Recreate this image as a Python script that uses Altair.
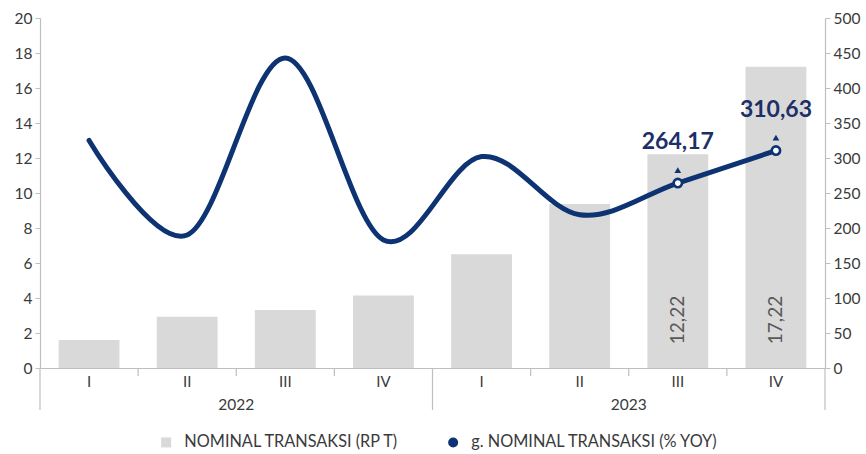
import altair as alt
import pandas as pd

# ---- data ----
quarters = ["I", "II", "III", "IV", "I", "II", "III", "IV"]
years = ["2022", "2022", "2022", "2022", "2023", "2023", "2023", "2023"]
nominal = [1.6, 2.93, 3.31, 4.15, 6.5, 9.37, 12.22, 17.22]          # Rp T (left axis)
growth = [325, 190, 443, 183, 302, 219, 264.17, 310.63]             # % yoy (right axis)
labelled = ["2023 III", "2023 IV"]
series_names = ["NOMINAL TRANSAKSI (RP T)", "g. NOMINAL TRANSAKSI (% YOY)"]
series_shapes = ["square", "circle"]
left_ticks = [0, 2, 4, 6, 8, 10, 12, 14, 16, 18, 20]
right_ticks = [0, 50, 100, 150, 200, 250, 300, 350, 400, 450, 500]
year_list = ["2022", "2023"]

keys = [f"{y} {q}" for y, q in zip(years, quarters)]

def fmt(v):
    return f"{v:.2f}".replace(".", ",")

df = pd.DataFrame({
    "key": keys,
    "quarter": quarters,
    "year": years,
    "nominal": nominal,
    "growth": growth,
    "nom_lab": [fmt(v) for v in nominal],
    "gr_lab": [fmt(v) for v in growth],
    "first": [q == "I" for q in quarters],
})
years_df = pd.DataFrame({
    "year": year_list,
    "mid": [f"{y} III" for y in year_list],
    "start": [f"{y} I" for y in year_list],
})
legend_df = pd.DataFrame({"series": series_names})

GRAY_BAR = "#d9d9d9"
NAVY = "#0d3372"
LABEL_NAVY = "#1c2f66"
AXIS = "#bfbfbf"
TXT = "#3a3a3a"
FONT = "Lato"

W, H = 785, 350
STEP = W / 8.0
PAD_IN, PAD_OUT = 0.38, 0.19
BOUND = -PAD_OUT * STEP  # shift from band start to category boundary

xscale = alt.Scale(domain=keys, paddingInner=PAD_IN, paddingOuter=PAD_OUT)
rscale = alt.Scale(domain=[0, 500], nice=False)

base = alt.Chart(df)

bars = base.mark_bar(color=GRAY_BAR).encode(
    x=alt.X("key:N", scale=xscale, title=None,
            axis=alt.Axis(labelExpr="split(datum.label, ' ')[1]", labelAngle=0,
                          ticks=False, labelPadding=6, labelFont=FONT, labelFontSize=15,
                          labelColor=TXT, domainColor=AXIS, domainWidth=1.2)),
    y=alt.Y("nominal:Q", scale=alt.Scale(domain=[0, 20], nice=False), title=None,
            axis=alt.Axis(values=left_ticks, orient="left", grid=False, domainColor=AXIS,
                          domainWidth=1.2, tickColor=AXIS, tickSize=5, labelPadding=3,
                          labelFont=FONT, labelFontSize=15.5, labelColor=TXT)),
)

leg = alt.Legend(orient="none", legendX=118, legendY=416,
                 direction="horizontal", title=None,
                 labelFont=FONT, labelFontSize=16.3, labelColor=TXT, labelLimit=500,
                 symbolSize=100, symbolOpacity=1,
                 labelOffset=10, columnPadding=45)

legend_layer = alt.Chart(legend_df).mark_point(filled=True, opacity=0, size=100).encode(
    color=alt.Color("series:N",
                    scale=alt.Scale(domain=series_names, range=[GRAY_BAR, NAVY]),
                    legend=leg),
    shape=alt.Shape("series:N", scale=alt.Scale(domain=series_names, range=series_shapes),
                    legend=leg),
)

bar_labels = base.transform_filter(
    alt.FieldOneOfPredicate(field="key", oneOf=labelled)
).mark_text(angle=270, align="center", baseline="middle", font=FONT,
            fontSize=19, color="#595959").encode(
    x=alt.X("key:N", scale=xscale),
    y=alt.value(302),
    text="nom_lab:N",
)

right_y = alt.Y("growth:Q", scale=rscale, title=None,
                axis=alt.Axis(values=right_ticks, orient="right", grid=False, domainColor=AXIS,
                              domainWidth=1.2, tickColor=AXIS, tickSize=5, labelPadding=3,
                              labelFont=FONT, labelFontSize=15.5, labelColor=TXT))

line = base.mark_line(interpolate="cardinal", color=NAVY, strokeWidth=5,
                      strokeCap="round").encode(
    x=alt.X("key:N", scale=xscale),
    y=right_y,
)

pts_base = base.transform_filter(alt.FieldOneOfPredicate(field="key", oneOf=labelled))

pts = pts_base.mark_point(shape="circle", filled=True, fill="white", stroke=NAVY,
                          strokeWidth=2.6, size=70, opacity=1).encode(
    x=alt.X("key:N", scale=xscale),
    y=right_y,
)
tri = pts_base.mark_point(shape="triangle-up", filled=True, color=NAVY, size=45,
                          yOffset=-13, opacity=1).encode(
    x=alt.X("key:N", scale=xscale),
    y=right_y,
)
gr_text = pts_base.mark_text(font=FONT, fontSize=23, fontWeight="bold",
                             color=LABEL_NAVY, yOffset=-41, baseline="middle").encode(
    x=alt.X("key:N", scale=xscale),
    y=right_y,
    text="gr_lab:N",
)

# category boundary ticks on the x axis
small_ticks = base.transform_filter("!datum.first").mark_rule(
    color=AXIS, strokeWidth=1.2, xOffset=BOUND).encode(
    x=alt.X("key:N", scale=xscale, bandPosition=0),
    y=alt.value(H), y2=alt.value(H + 8),
)
# year separators
year_sep = alt.Chart(years_df).mark_rule(color=AXIS, strokeWidth=1.2, xOffset=BOUND).encode(
    x=alt.X("start:N", scale=xscale, bandPosition=0),
    y=alt.value(H), y2=alt.value(H + 42),
)
right_ext = alt.Chart(years_df).transform_filter("datum.year == '2022'").mark_rule(
    color=AXIS, strokeWidth=1.2).encode(
    x=alt.value(W), y=alt.value(H), y2=alt.value(H + 42))

year_text = alt.Chart(years_df).mark_text(font=FONT, fontSize=15.5, color=TXT,
                                          baseline="middle", xOffset=BOUND).encode(
    x=alt.X("mid:N", scale=xscale, bandPosition=0),
    y=alt.value(H + 37),
    text="year:N",
)

left_layer = alt.layer(bars, bar_labels, small_ticks, year_sep, right_ext, year_text, legend_layer)
right_layer = alt.layer(line, pts, tri, gr_text)

chart = alt.layer(left_layer, right_layer).resolve_scale(y="independent").properties(
    width=W, height=H,
    padding={"left": 40, "top": 18, "right": 41, "bottom": 86},
    autosize=alt.AutoSizeParams(type="none"),
    background="white",
).configure_view(stroke=None)

chart.save("out.html", embed_options={"renderer": "svg", "actions": False})
